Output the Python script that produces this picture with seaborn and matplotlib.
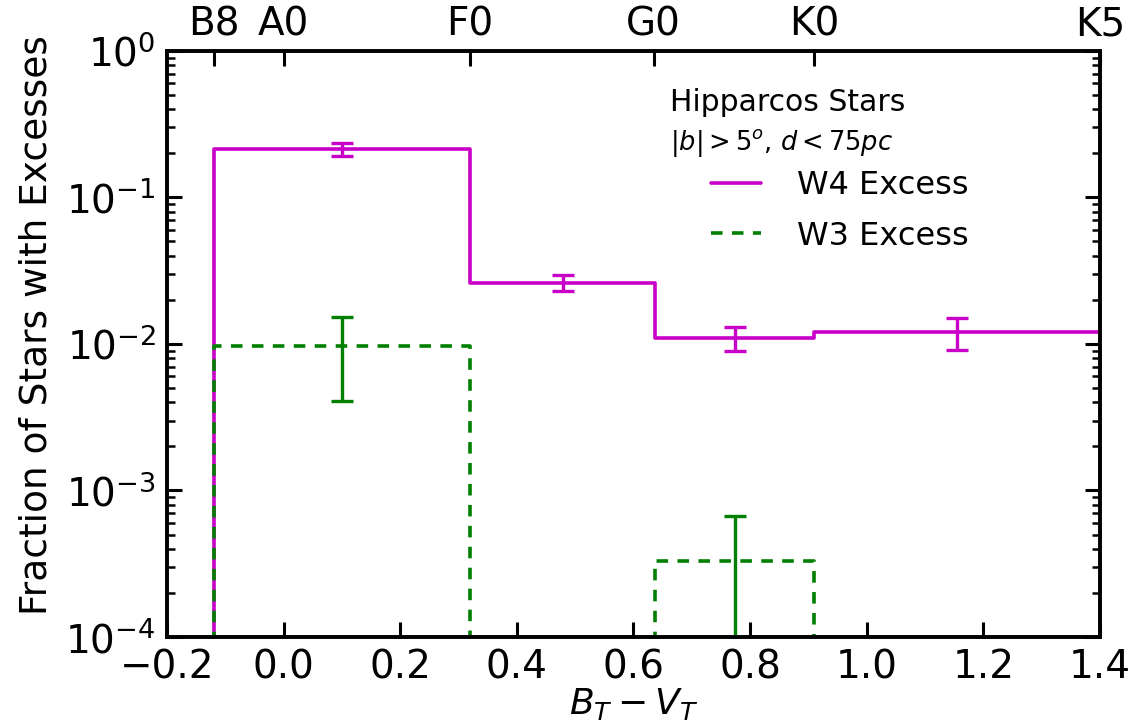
import numpy as np
import pandas as pd
import matplotlib
matplotlib.use("Agg")
import matplotlib.pyplot as plt
import seaborn as sns
from matplotlib.lines import Line2D
from matplotlib.ticker import LogLocator, NullFormatter

# ---- data ----
bin_edges = [-0.12, 0.32, 0.637, 0.91, 1.40]
w4_frac = [0.213, 0.0262, 0.0110, 0.0121]
w4_err = [0.022, 0.0033, 0.0020, 0.0030]
w3_frac = [0.0097, 0.0, 0.000330, 0.0]
w3_err = [0.0056, 0.0, 0.000342, 0.0]
spec_types = ["B8", "A0", "F0", "G0", "K0", "K5"]
spec_colors = [-0.12, 0.0, 0.32, 0.635, 0.91, 1.40]
xticks = [-0.2, 0.0, 0.2, 0.4, 0.6, 0.8, 1.0, 1.2, 1.4]

sns.set_theme(style="white")
plt.rcParams["font.family"] = ["DejaVu Sans"]
plt.rcParams["mathtext.fontset"] = "dejavusans"
for k in ["text.color", "axes.labelcolor", "xtick.color", "ytick.color", "axes.edgecolor"]:
    plt.rcParams[k] = "black"

fig = plt.figure(figsize=(11.28, 7.26), dpi=100)
ax = fig.add_axes([0.148, 0.1226, 0.827, 0.8074])

def step_frame(edges, vals):
    x = [edges[0]] + list(edges)
    y = [0.0] + list(vals) + [vals[-1]]
    return pd.DataFrame({"x": x, "y": y})

MAG = "#c800c8"
GRN = "#007f00"
lw = 2.6
dash = (0, (3.2, 2.6))

d4 = step_frame(bin_edges, w4_frac)
d3 = step_frame(bin_edges, w3_frac)
sns.lineplot(data=d4, x="x", y="y", estimator=None, sort=False, ax=ax,
             drawstyle="steps-post", color=MAG, lw=lw)
sns.lineplot(data=d3, x="x", y="y", estimator=None, sort=False, ax=ax,
             drawstyle="steps-post", color=GRN, lw=lw, linestyle=dash)

centers = [(a + b) / 2 for a, b in zip(bin_edges[:-1], bin_edges[1:])]
ax.errorbar(centers, w4_frac, yerr=w4_err, fmt="none", ecolor=MAG,
            elinewidth=2.4, capsize=8, capthick=2.4)
ax.errorbar([centers[0], centers[2]], [w3_frac[0], w3_frac[2]],
            yerr=[w3_err[0], w3_err[2]], fmt="none", ecolor=GRN,
            elinewidth=2.4, capsize=8, capthick=2.4)

ax.set_yscale("log")
ax.set_xlim(-0.2, 1.4)
ax.set_ylim(1e-4, 1.0)
ax.set_xticks(xticks)
ax.set_xticklabels([f"{t:.1f}".replace("-", "\u2212") for t in xticks])
ax.yaxis.set_major_locator(LogLocator(base=10, numticks=10))
ax.yaxis.set_minor_locator(LogLocator(base=10, subs=np.arange(2, 10), numticks=20))
ax.yaxis.set_minor_formatter(NullFormatter())

fs = 28
ax.tick_params(axis="both", which="major", direction="in", length=11, width=2.2,
               labelsize=fs, pad=8)
ax.tick_params(axis="y", which="minor", direction="in", length=6, width=1.8)
ax.tick_params(axis="y", which="both", left=True, right=True)
ax.tick_params(axis="x", which="both", top=False, bottom=True)
ax.xaxis.set_minor_locator(plt.NullLocator())
for s in ax.spines.values():
    s.set_linewidth(2.6)
    s.set_color("black")

ax.set_xlabel(r"$B_T - V_T$", fontsize=26, labelpad=0)
ax.set_ylabel("Fraction of Stars with Excesses", fontsize=27)
ax.yaxis.set_label_coords(-0.121, 0.532)

# top spectral-type axis
ax2 = ax.twiny()
ax2.set_xlim(ax.get_xlim())
ax2.set_xticks(spec_colors)
ax2.set_xticklabels(spec_types)
ax2.tick_params(axis="x", direction="in", length=11, width=2.2, labelsize=28, pad=5)
for s in ax2.spines.values():
    s.set_linewidth(2.6)
    s.set_color("black")

# legend / annotation
ax.text(0.5395, 0.898, "Hipparcos Stars", transform=ax.transAxes, fontsize=21.5,
        ha="left", va="baseline")
ax.text(0.5395, 0.831, r"$|b|>\mathit{5}^o$, $d<\mathit{75pc}$",
        transform=ax.transAxes, fontsize=18.5, ha="left", va="baseline")
handles = [Line2D([], [], color=MAG, lw=lw),
           Line2D([], [], color=GRN, lw=lw, linestyle=dash)]
leg = ax.legend(handles, ["W4 Excess", "W3 Excess"], loc="upper left",
                bbox_to_anchor=(0.583, 0.796), frameon=False, fontsize=23,
                handlelength=1.56, handletextpad=1.13, labelspacing=0.6,
                borderaxespad=0, borderpad=0)

fig.savefig("out.png", dpi=100)
